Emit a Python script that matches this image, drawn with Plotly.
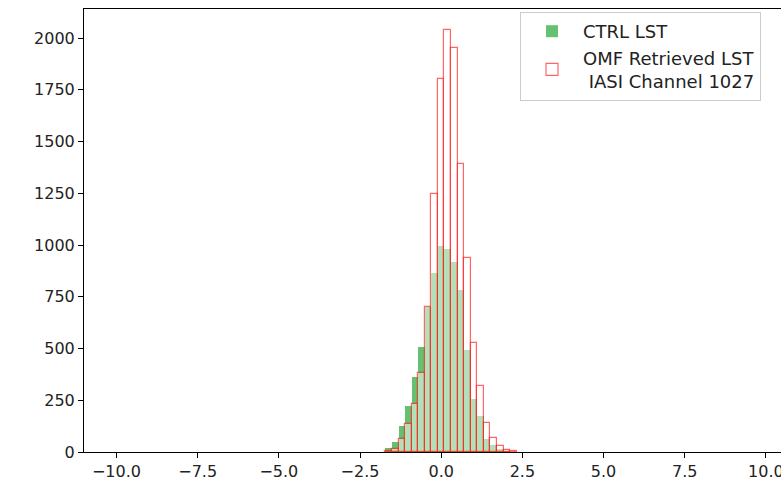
import numpy as np
import plotly.graph_objects as go

# Histogram bins: np.linspace(-10, 10, 100) -> 99 bins
bin_edges = np.linspace(-10, 10, 100)
first_bin = 41  # index of first non-empty bin

ctrl_counts = [20, 48, 124, 222, 361, 507, 703, 865, 998, 982, 918, 783,
               494, 258, 173, 62, 36, 15, 5, 1]
omf_counts = [3, 16, 62, 137, 230, 380, 703, 1247, 1801, 2039, 1951, 1390,
              939, 529, 320, 139, 70, 31, 12, 4]

ctrl_name = "CTRL LST"
omf_name = "OMF Retrieved LST<br> IASI Channel 1027"

x_ticks = [-10, -7.5, -5, -2.5, 0, 2.5, 5, 7.5, 10]
y_ticks = [0, 250, 500, 750, 1000, 1250, 1500, 1750, 2000]

n = len(ctrl_counts)
lefts = bin_edges[first_bin:first_bin + n]
rights = bin_edges[first_bin + 1:first_bin + 1 + n]
centers = (lefts + rights) / 2
widths = rights - lefts

fig = go.Figure()
fig.add_trace(go.Bar(
    x=centers, y=ctrl_counts, width=widths, name=ctrl_name,
    marker=dict(color="rgba(0,150,20,0.6)", line=dict(width=0)),
))
fig.add_trace(go.Bar(
    x=centers, y=omf_counts, width=widths, name=omf_name,
    marker=dict(color="rgba(255,255,255,0.5)",
                line=dict(color="rgba(255,0,0,0.6)", width=1.2)),
))

ymax = 1.05 * max(max(ctrl_counts), max(omf_counts))

fig.update_layout(
    width=781, height=480,
    barmode="overlay", bargap=0,
    paper_bgcolor="white", plot_bgcolor="white",
    font=dict(family="DejaVu Sans", size=16, color="#222"),
    margin=dict(l=84, r=0, t=9, b=28, autoexpand=False),
    showlegend=True,
    legend=dict(
        x=(520 - 84) / 697, y=(452 - 12) / 443, xanchor="left", yanchor="top",
        bgcolor="rgba(255,255,255,0.8)", bordercolor="#cccccc", borderwidth=1,
        font=dict(family="DejaVu Sans", size=18, color="#222"),
        itemwidth=52, tracegroupgap=0,
    ),
    xaxis=dict(
        range=[-11, 10.465], tickvals=x_ticks, tickformat=".1f",
        showgrid=False, zeroline=False, showline=True, linecolor="black",
        linewidth=1, mirror=True, ticks="outside", ticklen=5,
        tickcolor="black", ticklabeloverflow="allow",
    ),
    yaxis=dict(
        range=[0, ymax], tickvals=y_ticks,
        showgrid=False, zeroline=False, showline=True, linecolor="black",
        linewidth=1, mirror=False, ticks="outside", ticklen=5,
        tickcolor="black",
    ),
)

fig.write_html("out.html")
